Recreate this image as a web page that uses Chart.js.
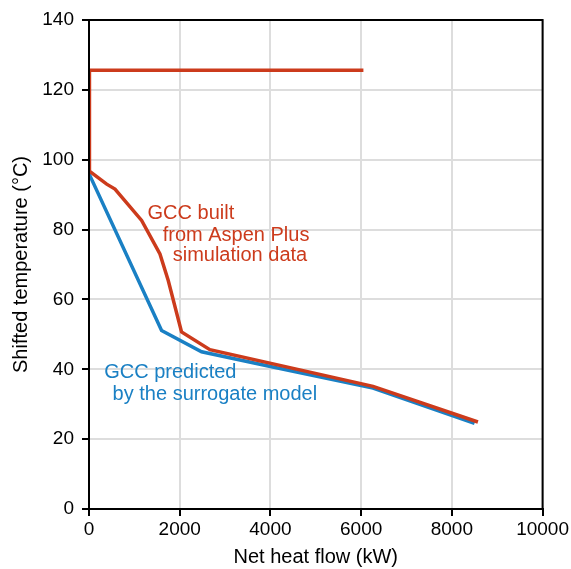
<!DOCTYPE html>
<html><head><meta charset="utf-8">
<script src="https://cdn.jsdelivr.net/npm/chart.js@4"></script>
<style>html,body{margin:0;padding:0;background:#fff}#w{width:571px;height:569px}</style>
</head><body><div id="w"><canvas id="c"></canvas></div>
<script>
const redX = [6050, 0, 0, 20, 390, 573, 1160, 1564, 1747, 2040, 2665, 6262, 8575];
const redY = [125.6, 125.6, 100, 96.7, 93, 91.6, 82.6, 73, 65.4, 50.7, 45.6, 35.1, 24.9];
const blueX = [0, 0, 1600, 2482, 4000, 6262, 8500];
const blueY = [104, 96, 51.1, 45, 40.8, 34.6, 24.5];
const xTicks = [0, 2000, 4000, 6000, 8000, 10000];
const yTicks = [0, 20, 40, 60, 80, 100, 120, 140];
const RED = '#CC3B1C', BLUE = '#1A80C4';
const pts = (xs, ys) => xs.map((x, i) => ({x, y: ys[i]}));
const FONT = 'Liberation Sans, Arial, sans-serif';

const frame = {
  id: 'frame',
  afterDraw(chart) {
    const {ctx, chartArea: a, scales: {x, y}} = chart;
    ctx.save();
    ctx.strokeStyle = '#000'; ctx.lineWidth = 2;
    ctx.strokeRect(a.left, a.top, a.right - a.left, a.bottom - a.top);
    ctx.font = '20px ' + FONT;
    ctx.textBaseline = 'alphabetic';
    ctx.textAlign = 'left';
    ctx.fillStyle = RED;
    ctx.fillText('GCC built', x.getPixelForValue(1290), y.getPixelForValue(83.0));
    ctx.fillText('from Aspen Plus', x.getPixelForValue(1625), y.getPixelForValue(76.8));
    ctx.fillText('simulation data', x.getPixelForValue(1845), y.getPixelForValue(71.1));
    ctx.fillStyle = BLUE;
    ctx.fillText('GCC predicted', x.getPixelForValue(335), y.getPixelForValue(37.6));
    ctx.fillText('by the surrogate model', x.getPixelForValue(520), y.getPixelForValue(31.2));
    ctx.restore();
  }
};

new Chart(document.getElementById('c'), {
  type: 'scatter',
  data: {
    datasets: [
      {data: pts(redX, redY), showLine: true, borderColor: RED, borderWidth: 3.5, pointRadius: 0, tension: 0, fill: false},
      {data: pts(blueX, blueY), showLine: true, borderColor: BLUE, borderWidth: 3.5, pointRadius: 0, tension: 0, fill: false}
    ]
  },
  options: {
    responsive: true, maintainAspectRatio: false, animation: false,
    layout: {padding: {left: 0, top: 20, right: 28, bottom: 0}},
    plugins: {legend: {display: false}, tooltip: {enabled: false}},
    scales: {
      x: {
        type: 'linear', min: 0, max: 10000,
        afterBuildTicks: s => { s.ticks = xTicks.map(v => ({value: v})); },
        afterFit: s => { s.height = 60; },
        grid: {color: '#dddddd', lineWidth: 2, tickColor: '#000', tickLength: 7, tickWidth: 2},
        border: {color: '#000', width: 2},
        ticks: {color: '#000', font: {family: FONT, size: 19}, padding: 2, maxRotation: 0, callback: v => String(v)},
        title: {display: true, text: 'Net heat flow (kW)', color: '#000', font: {family: FONT, size: 20}, padding: {top: 2, bottom: 0}}
      },
      y: {
        type: 'linear', min: 0, max: 140,
        afterBuildTicks: s => { s.ticks = yTicks.map(v => ({value: v})); },
        afterFit: s => { s.width = 89; },
        grid: {color: '#dddddd', lineWidth: 2, tickColor: '#000', tickLength: 7, tickWidth: 2},
        border: {color: '#000', width: 2},
        ticks: {color: '#000', font: {family: FONT, size: 19}, padding: 8, callback: v => String(v)},
        title: {display: true, text: 'Shifted temperature (°C)', color: '#000', font: {family: FONT, size: 20}, padding: {top: 9, bottom: 0}}
      }
    }
  },
  plugins: [frame]
});
</script></body></html>
